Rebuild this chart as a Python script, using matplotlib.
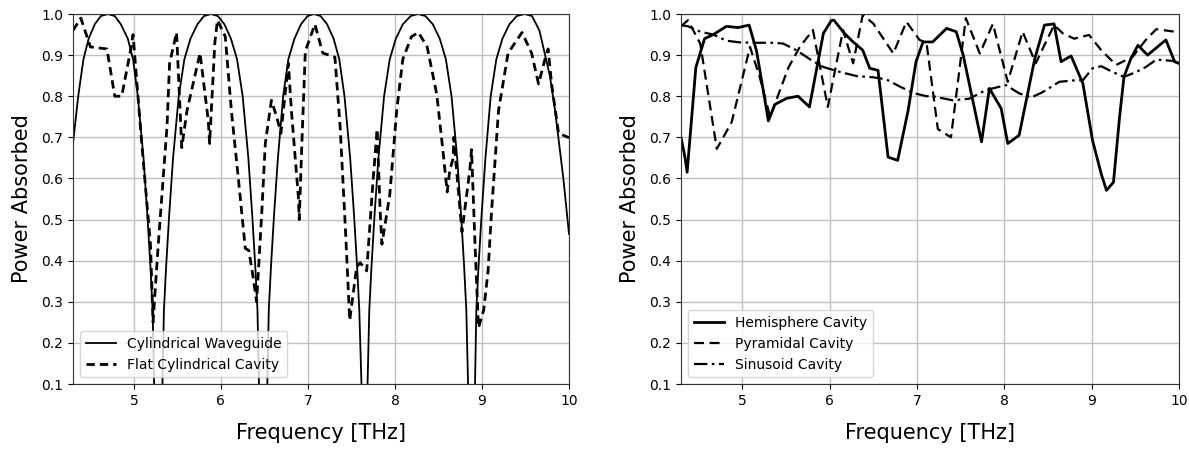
import matplotlib
matplotlib.use("Agg")
import matplotlib.pyplot as plt

# ---------------- Left panel data ----------------
freq_cyl = [4.30, 4.36, 4.42, 4.48, 4.55, 4.62, 4.70, 4.78, 4.85, 4.93, 4.99, 5.045, 5.11, 5.155,
            5.19, 5.215, 5.232, 5.28,
            5.328, 5.345, 5.37, 5.405, 5.45, 5.515, 5.58, 5.65, 5.73, 5.805, 5.885, 5.965, 6.04,
            6.115, 6.185, 6.25, 6.315, 6.36, 6.395, 6.42, 6.437, 6.485,
            6.533, 6.55, 6.575, 6.61, 6.655, 6.715, 6.775, 6.845, 6.92, 6.995, 7.07, 7.145, 7.22,
            7.295, 7.36, 7.42, 7.485, 7.53, 7.565, 7.59, 7.615, 7.65,
            7.685, 7.705, 7.73, 7.765, 7.81, 7.875, 7.94, 8.01, 8.09, 8.18, 8.265, 8.35, 8.435,
            8.515, 8.585, 8.65, 8.715, 8.76, 8.795, 8.82, 8.84, 8.88,
            8.92, 8.935, 8.96, 8.995, 9.04, 9.10, 9.165, 9.235, 9.315, 9.40, 9.49, 9.575, 9.66,
            9.72, 9.78, 9.84, 9.935, 10.0]
pa_cyl = [0.685, 0.80, 0.89, 0.94, 0.975, 0.995, 1.0, 0.995, 0.975, 0.94, 0.89, 0.80, 0.65, 0.51,
          0.385, 0.28, 0.10, 0.0,
          0.10, 0.28, 0.385, 0.51, 0.65, 0.80, 0.89, 0.94, 0.975, 0.995, 1.0, 0.995, 0.975,
          0.94, 0.89, 0.80, 0.65, 0.51, 0.385, 0.28, 0.10, 0.0,
          0.10, 0.28, 0.385, 0.51, 0.65, 0.80, 0.89, 0.94, 0.975, 0.995, 1.0, 0.995, 0.975,
          0.94, 0.89, 0.80, 0.65, 0.51, 0.385, 0.28, 0.10, 0.0,
          0.10, 0.28, 0.385, 0.51, 0.65, 0.80, 0.89, 0.94, 0.975, 0.995, 1.0, 0.995, 0.975,
          0.94, 0.89, 0.80, 0.65, 0.51, 0.385, 0.28, 0.10, 0.0,
          0.10, 0.28, 0.385, 0.51, 0.65, 0.80, 0.89, 0.94, 0.975, 0.995, 1.0, 0.995, 0.96,
          0.905, 0.85, 0.765, 0.60, 0.465]

freq_flat = [4.30, 4.39, 4.50, 4.69, 4.78, 4.86, 4.96, 4.99, 5.09, 5.19, 5.22, 5.28, 5.38, 5.41,
             5.49, 5.55, 5.61, 5.76, 5.855, 5.87, 5.93, 5.96, 6.05, 6.12, 6.20, 6.28, 6.32, 6.37,
             6.41, 6.47, 6.51, 6.58, 6.64, 6.69, 6.775, 6.81, 6.89, 6.90, 6.93, 6.97, 7.08, 7.17,
             7.31, 7.37, 7.43, 7.48, 7.56, 7.60, 7.675, 7.75, 7.795, 7.83, 7.85, 7.94, 8.02, 8.09,
             8.19, 8.27, 8.37, 8.48, 8.55, 8.60, 8.63, 8.67, 8.675, 8.77, 8.86, 8.88, 8.92, 8.96,
             9.02, 9.07, 9.11, 9.19, 9.30, 9.46, 9.57, 9.65, 9.73, 9.76, 9.80, 9.88, 9.99, 10.0]
pa_flat = [0.96, 0.99, 0.92, 0.915, 0.80, 0.80, 0.91, 0.95, 0.685, 0.44, 0.25, 0.44, 0.725, 0.88,
           0.955, 0.675, 0.765, 0.905, 0.74, 0.685, 0.93, 0.985, 0.945, 0.765, 0.60, 0.43, 0.425, 0.36,
           0.30, 0.52, 0.685, 0.79, 0.75, 0.71, 0.88, 0.765, 0.555, 0.50, 0.685, 0.91, 0.975, 0.905,
           0.895, 0.725, 0.48, 0.255, 0.385, 0.395, 0.375, 0.60, 0.72, 0.52, 0.44, 0.56, 0.765, 0.89,
           0.945, 0.955, 0.92, 0.805, 0.67, 0.567, 0.62, 0.65, 0.70, 0.47, 0.62, 0.67, 0.44, 0.237,
           0.28, 0.375, 0.52, 0.765, 0.905, 0.955, 0.905, 0.83, 0.895, 0.915, 0.83, 0.71, 0.70, 0.70]

# ---------------- Right panel data ----------------
freq_hemi = [4.30, 4.345, 4.37, 4.47, 4.57, 4.67, 4.82, 4.955, 5.08, 5.165, 5.28, 5.30, 5.375, 5.51,
             5.64, 5.77, 5.93, 6.02, 6.05, 6.17, 6.27, 6.38, 6.46, 6.555, 6.67, 6.78, 6.90, 6.99,
             7.07, 7.18, 7.34, 7.45, 7.53, 7.74, 7.83, 7.965, 8.04, 8.17, 8.35, 8.46, 8.57, 8.65,
             8.765, 8.90, 9.01, 9.11, 9.17, 9.25, 9.32, 9.37, 9.45, 9.53, 9.64, 9.85, 9.95, 10.0]
pa_hemi = [0.70, 0.652, 0.615, 0.87, 0.94, 0.95, 0.97, 0.967, 0.973, 0.91, 0.766, 0.74, 0.78, 0.795,
           0.80, 0.774, 0.953, 0.984, 0.985, 0.953, 0.932, 0.912, 0.868, 0.863, 0.652, 0.644, 0.766,
           0.884, 0.932, 0.932, 0.965, 0.957, 0.90, 0.689, 0.819, 0.77, 0.685, 0.705, 0.892, 0.973,
           0.976, 0.884, 0.898, 0.831, 0.693, 0.611, 0.571, 0.591, 0.75, 0.847, 0.892, 0.924, 0.90,
           0.937, 0.884, 0.88]

freq_pyr = [4.30, 4.38, 4.52, 4.71, 4.88, 5.09, 5.20, 5.32, 5.53, 5.66, 5.81, 5.98, 6.155, 6.27,
            6.38, 6.50, 6.73, 6.88, 7.03, 7.11, 7.24, 7.39, 7.49, 7.56, 7.72, 7.87, 8.04, 8.21,
            8.36, 8.57, 8.67, 8.80, 8.97, 9.11, 9.28, 9.47, 9.62, 9.74, 9.95, 10.0]
pa_pyr = [0.97, 0.985, 0.928, 0.672, 0.737, 0.92, 0.847, 0.75, 0.87, 0.92, 0.961, 0.774, 0.961, 0.88,
          0.998, 0.977, 0.904, 0.981, 0.937, 0.93, 0.72, 0.70, 0.87, 0.99, 0.904, 0.976, 0.835, 0.957,
          0.88, 0.973, 0.953, 0.94, 0.949, 0.912, 0.876, 0.896, 0.937, 0.963, 0.957, 0.955]

freq_sin = [4.30, 4.38, 4.52, 4.67, 4.82, 4.97, 5.165, 5.36, 5.47, 5.62, 5.79, 5.93, 6.12, 6.31,
            6.50, 6.65, 6.80, 6.955, 7.11, 7.18, 7.41, 7.60, 7.79, 8.02, 8.17, 8.31, 8.44, 8.63,
            8.82, 8.90, 9.01, 9.11, 9.24, 9.37, 9.51, 9.62, 9.74, 9.93, 10.0]
pa_sin = [0.973, 0.97, 0.957, 0.95, 0.935, 0.931, 0.93, 0.93, 0.928, 0.912, 0.888, 0.871, 0.859, 0.849,
          0.846, 0.841, 0.824, 0.808, 0.80, 0.80, 0.79, 0.794, 0.815, 0.827, 0.807, 0.797, 0.81, 0.835,
          0.839, 0.839, 0.868, 0.873, 0.859, 0.847, 0.859, 0.871, 0.889, 0.886, 0.88]

yticks = [0.1, 0.2, 0.3, 0.4, 0.5, 0.6, 0.7, 0.8, 0.9, 1.0]
xticks = [5, 6, 7, 8, 9, 10]

fig = plt.figure(figsize=(11.89, 4.54), dpi=100)
ax1 = fig.add_axes([73 / 1189, 70 / 454, 496 / 1189, 370 / 454])
ax2 = fig.add_axes([681 / 1189, 70 / 454, 498 / 1189, 370 / 454])

ax1.plot(freq_cyl, pa_cyl, color="black", lw=1.3, label="Cylindrical Waveguide")
ax1.plot(freq_flat, pa_flat, color="black", lw=2.0, ls=(0, (3.0, 1.8)), label="Flat Cylindrical Cavity")

ax2.plot(freq_hemi, pa_hemi, color="black", lw=2.0, label="Hemisphere Cavity")
ax2.plot(freq_pyr, pa_pyr, color="black", lw=1.6, ls=(0, (4.5, 2.5)), label="Pyramidal Cavity")
ax2.plot(freq_sin, pa_sin, color="black", lw=1.6, ls=(0, (6, 2, 1.2, 2)), label="Sinusoid Cavity")

for ax in (ax1, ax2):
    ax.set_xlim(4.3, 10)
    ax.set_ylim(0.1, 1.0)
    ax.set_xticks(xticks)
    ax.set_yticks(yticks)
    ax.set_yticklabels([f"{v:.1f}" for v in yticks])
    ax.grid(True, color="#c0c0c0", lw=1.0)
    ax.set_axisbelow(True)
    ax.tick_params(labelsize=10)
    ax.set_xlabel("Frequency [THz]", fontsize=15, labelpad=11)
    ax.set_ylabel("Power Absorbed", fontsize=15, labelpad=7)
    for s in ax.spines.values():
        s.set_color("#333333")
    ax.legend(loc="lower left", fontsize=10, frameon=True, handlelength=2.2)

fig.savefig("out.png", dpi=100)
